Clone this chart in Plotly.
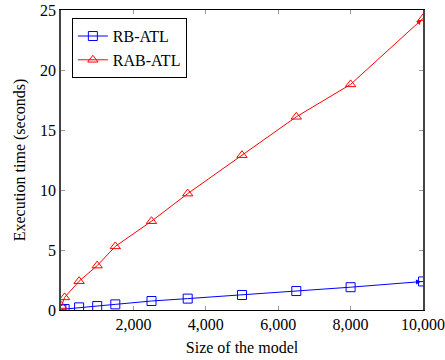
import plotly.graph_objects as go

sizes = [10, 100, 500, 1000, 1500, 2500, 3500, 5000, 6500, 8000, 10000]
rb_atl = [0.05, 0.08, 0.22, 0.33, 0.47, 0.75, 0.95, 1.25, 1.58, 1.9, 2.38]
rab_atl = [0.33, 1.05, 2.4, 3.7, 5.3, 7.4, 9.7, 12.9, 16.1, 18.8, 24.3]
x_ticks = [2000, 4000, 6000, 8000, 10000]
y_ticks = [0, 5, 10, 15, 20, 25]

FONT = "Liberation Serif, Times New Roman, serif"

fig = go.Figure()
fig.add_trace(go.Scatter(x=sizes, y=rb_atl, name="RB-ATL", mode="lines+markers",
                         line=dict(color="blue", width=1),
                         marker=dict(symbol="square-open", size=9, color="blue", line=dict(width=1))))
fig.add_trace(go.Scatter(x=sizes, y=rab_atl, name="RAB-ATL", mode="lines+markers",
                         line=dict(color="red", width=1),
                         marker=dict(symbol="triangle-up-open", size=9, color="red", line=dict(width=1))))

for ys, c in [(rb_atl, "blue"), (rab_atl, "red")]:
    fig.add_annotation(x=sizes[-1], y=ys[-1], ax=sizes[-2] + (sizes[-1] - sizes[-2]) * 0.9,
                       ay=ys[-2] + (ys[-1] - ys[-2]) * 0.9, xref="x", yref="y", axref="x", ayref="y",
                       showarrow=True, arrowhead=2, arrowsize=1, arrowwidth=1, arrowcolor=c,
                       standoff=2, text="")

fig.update_layout(
    template="none",
    width=445, height=360,
    margin=dict(l=61, r=22, t=10, b=50, pad=0),
    paper_bgcolor="white", plot_bgcolor="white",
    font=dict(family=FONT, size=16, color="black"),
    showlegend=True,
    legend=dict(x=0.03, y=0.973, xanchor="left", yanchor="top",
                bordercolor="black", borderwidth=1, bgcolor="white",
                font=dict(family=FONT, size=16, color="black"), tracegroupgap=0,
                itemwidth=30),
    xaxis=dict(range=[0, 10000], tickvals=x_ticks, tickformat=",", showgrid=False,
               zeroline=False, showline=True, linecolor="black", linewidth=1, mirror="ticks",
               ticks="inside", ticklen=4, tickcolor="#999", automargin=False,
               title=dict(text="Size of the model", standoff=9, font=dict(family=FONT, size=16)),
               tickfont=dict(family=FONT, size=16, color="black")),
    yaxis=dict(range=[0, 25], tickvals=y_ticks, showgrid=False, zeroline=False,
               showline=True, linecolor="#444", linewidth=1.5, mirror="ticks",
               ticks="inside", ticklen=4, tickcolor="#999", automargin=False,
               title=dict(text="Execution time (seconds)", standoff=10, font=dict(family=FONT, size=16)),
               tickfont=dict(family=FONT, size=16, color="black")),
)

fig.write_html("out.html", post_script="document.body.style.margin='0';",
               config={"displayModeBar": False})
